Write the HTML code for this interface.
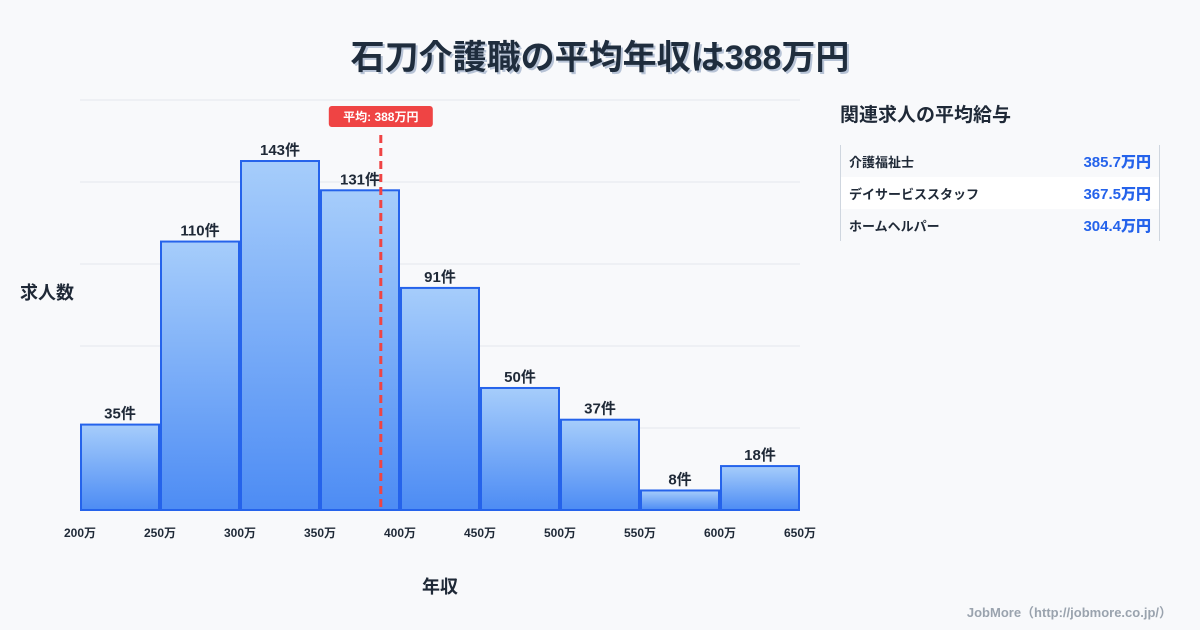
<!DOCTYPE html>
<html><head><meta charset="utf-8"><style>
body{margin:0;width:1200px;height:630px;background:#f8f9fb;font-family:"Liberation Sans","Noto Sans CJK JP",sans-serif;overflow:hidden;position:relative;color:#1f2937}
.t{position:absolute;left:0;width:1200px;text-align:center;top:30px;font-size:34px;font-weight:bold;color:#1f2d3d;text-shadow:2px 2px 0 #b7c3d6}
.panel{position:absolute;left:840px;top:100px;width:320px}
.ph{font-size:19px;font-weight:bold;color:#1f2937;margin-bottom:18px}
.rows{border-left:1px solid #cfd6df;border-right:1px solid #cfd6df}
.row{display:flex;justify-content:space-between;align-items:center;height:32px;padding:0 8px 0 8px;font-size:13px;font-weight:bold}
.row b{color:#2563eb;font-size:15px}
.row.alt{background:#fff}
.foot{position:absolute;right:28px;top:602px;font-size:13px;color:#9aa3ae;font-weight:bold}
</style></head><body>
<div class="t">石刀介護職の平均年収は388万円</div>
<svg id="c" width="1200" height="630" style="position:absolute;left:0;top:0">
<defs><linearGradient id="g" x1="0" y1="0" x2="0" y2="1"><stop offset="0" stop-color="#a6cdfb"/><stop offset="1" stop-color="#4d8cf4"/></linearGradient></defs>
</svg>
<div class="panel">
<div class="ph">関連求人の平均給与</div>
<div class="rows">
<div class="row"><span>介護福祉士</span><b>385.7万円</b></div>
<div class="row alt"><span>デイサービススタッフ</span><b>367.5万円</b></div>
<div class="row"><span>ホームヘルパー</span><b>304.4万円</b></div>
</div></div>
<div class="foot">JobMore（http://jobmore.co.jp/）</div>
<script>
const binStarts=[200,250,300,350,400,450,500,550,600];
const counts=[35,110,143,131,91,50,37,8,18];
const xTicks=[200,250,300,350,400,450,500,550,600,650];
const meanValue=388;
const yMax=168;
const svg=document.getElementById('c');
const NS='http://www.w3.org/2000/svg';
const X=v=>80+(v-200)*720/450;
const Y=v=>510-v*410/yMax;
function mk(t,a){const e=document.createElementNS(NS,t);for(const k in a)e.setAttribute(k,a[k]);svg.appendChild(e);return e;}
for(let i=0;i<=5;i++){const g=mk('line',{x1:80,x2:800,y1:510-i*82,y2:510-i*82,stroke:'#e3e7ec','stroke-width':1});

}
binStarts.forEach((b,i)=>{
const r=mk('rect',{x:X(b)+1,y:Y(counts[i]),width:X(b+50)-X(b)-2,height:510-Y(counts[i]),fill:'url(#g)',stroke:'#2563eb','stroke-width':2});


const t=mk('text',{x:(X(b)+X(b+50))/2,y:Y(counts[i])-6,'text-anchor':'middle','font-size':15,'font-weight':'bold',fill:'#1f2937'});
t.textContent=counts[i]+'件';


});
xTicks.forEach(v=>{const t=mk('text',{x:X(v),y:537,'text-anchor':'middle','font-size':12,'font-weight':'bold',fill:'#1f2937'});t.textContent=v+'万';

});
const ml=mk('line',{x1:X(meanValue),x2:X(meanValue),y1:135,y2:510,stroke:'#ef4444','stroke-width':3,'stroke-dasharray':'8,5'});


const mb=mk('rect',{x:X(meanValue)-52,y:106,width:104,height:21,rx:3,fill:'#ef4444'});


const mt=mk('text',{x:X(meanValue),y:121,'text-anchor':'middle','font-size':12,'font-weight':'bold',fill:'#fff'});mt.textContent='平均: '+meanValue+'万円';


const yt=mk('text',{x:20,y:299,'font-size':18,'font-weight':'bold',fill:'#1f2937'});yt.textContent='求人数';


const xt=mk('text',{x:440,y:593,'text-anchor':'middle','font-size':18,'font-weight':'bold',fill:'#1f2937'});xt.textContent='年収';


</script>
</body></html>
